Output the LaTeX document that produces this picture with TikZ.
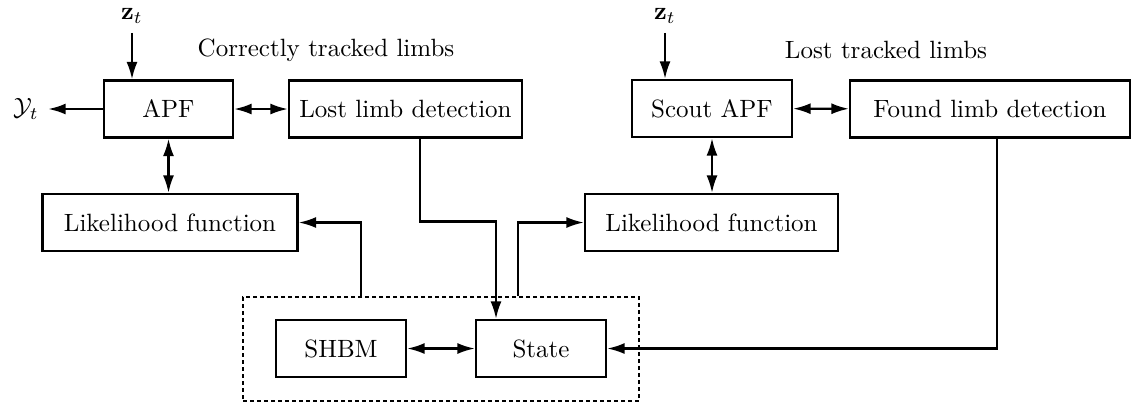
\documentclass[tikz,border=0pt]{standalone}
\usetikzlibrary{arrows.meta}
\begin{document}
\begin{tikzpicture}[x=0.4pt,y=-0.4pt,line width=0.9pt,
  blk/.style={draw,minimum height=22.8pt,inner sep=0pt},
  tip/.style={-{Latex[length=7pt,width=4.4pt]}},
  tips/.style={{Latex[length=7pt,width=4.4pt]}-{Latex[length=7pt,width=4.4pt]}}]
\useasboundingbox (0,0) rectangle (1132,403);
% correctly tracked limbs
\node[blk,minimum width=51.6pt] (apf) at (168.5,109) {APF};
\node[blk,minimum width=93.2pt] (lostdet) at (405.5,109) {Lost limb detection};
\node[blk,minimum width=102pt] (likL) at (170,222.5) {Likelihood function};
\node (lblL) at (326,50) {Correctly tracked limbs};
\node (z1) at (132,16) {$\mathbf{z}_t$};
\node (yt) at (26,109) {$\mathcal{Y}_t$};
% lost tracked limbs
\node[blk,minimum width=64pt] (scout) at (712,108.5) {Scout APF};
\node[blk,minimum width=112pt] (founddet) at (990,109) {Found limb detection};
\node[blk,minimum width=101.2pt] (likR) at (711.5,222.5) {Likelihood function};
\node (lblR) at (886,50) {Lost tracked limbs};
\node (z2) at (665,16) {$\mathbf{z}_t$};
% body model
\node[draw,dash pattern=on 1.6pt off 1.2pt,minimum width=158.4pt,minimum height=41.6pt] (body) at (441,349) {};
\node[blk,minimum width=52pt] (shbm) at (341,348.5) {SHBM};
\node[blk,minimum width=52pt] (state) at (541,348.5) {State};
% connectors
\coordinate (a1) at (420,221.5);
\coordinate (a2) at (496,221.5);
\coordinate (b1) at (361,0);
\coordinate (b2) at (518,0);
\coordinate (c1) at (997,0);
\draw[tip] (z1) -- (z1 |- apf.north);
\draw[tip] (apf) -- (yt);
\draw[tips] (apf) -- (lostdet);
\draw[tips] (apf.south) -- (apf.south |- likL.north);
\draw[tip] (a1 |- lostdet.south) -- (a1) -- (a2) -- (a2 |- state.north);
\draw[tip] (b1 |- body.north) |- (likL.east);
\draw[tip] (b2 |- body.north) |- (likR.west);
\draw[tips] (shbm) -- (state);
\draw[tip] (z2) -- (z2 |- scout.north);
\draw[tips] (scout) -- (founddet);
\draw[tips] (scout.south) -- (scout.south |- likR.north);
\draw[tip] (c1 |- founddet.south) |- (state.east);
\end{tikzpicture}
\end{document}
